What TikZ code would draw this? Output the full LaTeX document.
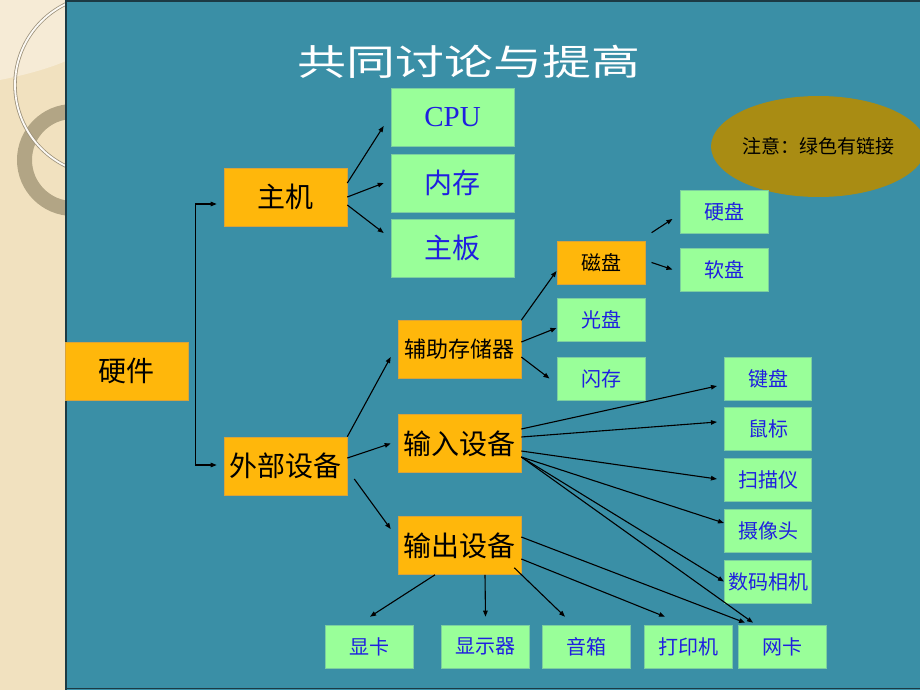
\documentclass[tikz,border=0pt]{standalone}
\usepackage{fontspec}
\usepackage{graphicx}
\setmainfont{Liberation Serif}
\newfontfamily\cjk{Noto Sans CJK SC}
\usetikzlibrary{arrows.meta,calc,shapes.geometric}
\definecolor{tealB}{HTML}{3A8FA6}
\definecolor{tealD}{HTML}{1C3A44}
\definecolor{beige}{HTML}{F1E1BF}
\definecolor{beigeL}{HTML}{F6EBD6}
\definecolor{ringG}{HTML}{B2A585}
\definecolor{orangeB}{HTML}{FFB70B}
\definecolor{orangeD}{HTML}{D9A33A}
\definecolor{greenB}{HTML}{99FF99}
\definecolor{greenD}{HTML}{7CCFA0}
\definecolor{blueT}{HTML}{1F1FE0}
\definecolor{olive}{HTML}{A98C13}
\tikzset{
  box/.style={rectangle, inner sep=0pt},
  obox/.style={box, fill=orangeB, draw=orangeD, line width=0.6pt, text=black},
  gbox/.style={box, fill=greenB, draw=greenD, line width=0.6pt, text=blueT},
  bigbox/.style={minimum width=123pt, minimum height=58pt, font=\cjk\fontsize{28}{28}\selectfont},
  midbox/.style={minimum width=123pt, minimum height=58pt, font=\cjk\fontsize{22}{22}\selectfont},
  smallbox/.style={minimum width=87.5pt, minimum height=43pt, font=\cjk\fontsize{20}{20}\selectfont},
  arr/.style={-{Triangle[length=6pt,width=4.5pt]}, line width=1.1pt, black},
}
\begin{document}
\begin{tikzpicture}[x=1pt,y=-1pt]
\useasboundingbox (0,0) rectangle (920,690);
% left decorative strip
\fill[beige] (0,0) rectangle (66,690);
\fill[beigeL] (0,0) -- (0,80) .. controls (20,76) and (45,70) .. (66,61) -- (66,0) -- cycle;
\begin{scope}
\clip (0,0) rectangle (66,690);
\draw[ringG, line width=15pt] (73,160) circle[radius=48.5];
\draw[color=black!35!beige, line width=3.4pt] (105,85) circle[radius=90];
\draw[color=white!85!beige, line width=1.8pt] (105,85) circle[radius=90];
\end{scope}
% main panel
\fill[tealB] (65,0) rectangle (920,690);
\draw[tealD, line width=1.6pt] (65.8,690) -- (65.8,0.8) -- (920,0.8);
\draw[tealD, line width=1.6pt] (65,688.5) -- (920,688.5);
% title
\node[text=white, font=\cjk\fontsize{36}{36}\selectfont] (title) at (469,62) {\scalebox{1.36}[1]{共同讨论与提高}};
% note ellipse
\node[ellipse, fill=olive, inner sep=0pt, minimum width=189pt, minimum height=101pt, font=\cjk\fontsize{19}{19}\selectfont] (note) at (818.5,146.5) {注意：绿色有链接};
% nodes
\node[obox, bigbox] (hw) at (126.5,371) {硬件};
\node[obox, bigbox] (zhuji) at (285.5,197) {主机};
\node[obox, bigbox] (waibu) at (285.5,466) {外部设备};
\node[gbox, bigbox, font=\fontsize{29}{29}\selectfont] (cpu) at (452.5,117) {CPU};
\node[gbox, bigbox] (neicun) at (452.5,183) {内存};
\node[gbox, bigbox] (zhuban) at (452.5,248) {主板};
\node[obox, midbox] (fuzhu) at (459.5,349.5) {辅助存储器};
\node[obox, bigbox] (shuru) at (459.5,443.5) {输入设备};
\node[obox, bigbox] (shuchu) at (459.5,545.5) {输出设备};
\node[obox, smallbox] (cipan) at (601.5,262.5) {磁盘};
\node[gbox, smallbox] (guangpan) at (601.5,320) {光盘};
\node[gbox, smallbox] (shancun) at (601.5,378.5) {闪存};
\node[gbox, smallbox] (yingpan) at (724.5,211.5) {硬盘};
\node[gbox, smallbox] (ruanpan) at (724.5,269.5) {软盘};
\node[gbox, smallbox] (jianpan) at (768,378.5) {键盘};
\node[gbox, smallbox] (shubiao) at (768,429) {鼠标};
\node[gbox, smallbox] (saomiao) at (768,480) {扫描仪};
\node[gbox, smallbox] (shexiang) at (768,530.5) {摄像头};
\node[gbox, smallbox] (shuma) at (768,581.5) {数码相机};
\node[gbox, smallbox] (xianka) at (369.5,646.5) {显卡};
\node[gbox, smallbox] (xianshiqi) at (485.5,646.5) {显示器};
\node[gbox, smallbox] (yinxiang) at (586.5,646.5) {音箱};
\node[gbox, smallbox] (dayinji) at (688.5,646.5) {打印机};
\node[gbox, smallbox] (wangka) at (782.5,646.5) {网卡};
% bracket from hardware
\coordinate (br) at ($(hw.east)+(7,0)$);
\draw[arr] (br) |- ($(zhuji.west)+(-7,7)$);
\draw[arr] (br) |- ($(waibu.west)+(-7,-1)$);
% host
\draw[arr] ($(zhuji.east)+(0,-14)$) -- ($(cpu.west)+(-7,9)$);
\draw[arr] (zhuji.east) -- ($(neicun.west)+(-7,0)$);
\draw[arr] ($(zhuji.east)+(0,8)$) -- ($(zhuban.west)+(-7,-15)$);
% peripherals
\draw[arr] (waibu.north east) -- ($(fuzhu.west)+(-7,7.5)$);
\draw[arr] ($(waibu.east)+(0,-8)$) -- ($(shuru.west)+(-7,0)$);
\draw[arr] ($(waibu.east)+(7,13)$) -- ($(shuchu.west)+(-7,-16.5)$);
% storage
\draw[arr] (fuzhu.north east) -- ($(cipan.west)+(-1,8.5)$);
\draw[arr] ($(fuzhu.east)+(0,-7.5)$) -- ($(guangpan.west)+(-1,8)$);
\draw[arr] ($(fuzhu.east)+(0,7.5)$) -- ($(shancun.west)+(-8,0)$);
\draw[arr] ($(cipan.north east)+(6,-8)$) -- ($(yingpan.west)+(-8,7.5)$);
\draw[arr] ($(cipan.east)+(6,0)$) -- ($(ruanpan.west)+(-8,0)$);
% input
\draw[arr] ($(shuru.east)+(0,-14.5)$) -- ($(jianpan.west)+(-7,7.5)$);
\draw[arr] ($(shuru.east)+(0,-6.5)$) -- ($(shubiao.west)+(-7,-7)$);
\draw[arr] ($(shuru.east)+(0,7.5)$) -- ($(saomiao.west)+(-7,-1)$);
\draw[arr] ($(shuru.east)+(0,13.5)$) -- ($(shexiang.west)+(0,-7.5)$);
\draw[arr] ($(shuru.east)+(0,13.5)$) -- (shuma.west);
\draw[arr] ($(shuru.east)+(0,13.5)$) -- ($(wangka.north)+(-29.5,-2)$);
% output
\draw[arr] ($(shuchu.south)+(-24.5,0)$) -- ($(xianka.north)+(0.5,-8)$);
\draw[arr] ($(shuchu.south)+(25.5,0)$) -- ($(xianshiqi.north)+(0,-8)$);
\draw[arr] ($(shuchu.south east)+(-7,-7)$) -- ($(yinxiang.north)+(-21.5,-8)$);
\draw[arr] ($(shuchu.east)+(0,13.5)$) -- ($(dayinji.north)+(-23.5,-8)$);
\draw[arr] ($(shuchu.east)+(0,-8.5)$) -- ($(wangka.north)+(-37.5,-2)$);
\end{tikzpicture}
\end{document}
